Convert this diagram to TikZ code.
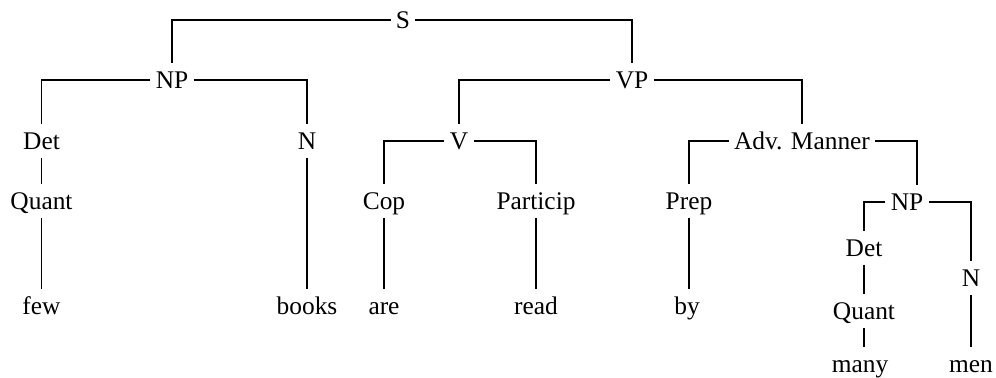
\documentclass[tikz,border=0pt]{standalone}
\usepackage{fontspec}
\setmainfont{Liberation Serif}
\begin{document}
\begin{tikzpicture}[x=0.5pt,y=-0.5pt,
  lab/.style={inner xsep=2.5pt, inner ysep=4pt, text height=8.4pt, text depth=0pt,
              font=\fontsize{12.7}{14}\selectfont},
  edge/.style={line width=0.7pt, line join=miter}]
\useasboundingbox (0,0) rectangle (996,378);
% nodes
\node[lab] (S) at (403,20) {S};
\node[lab] (NP) at (172,80) {NP};
\node[lab] (VP) at (632,80) {VP};
\node[lab] (Det) at (41.5,141) {Det};
\node[lab] (N) at (307,141) {N};
\node[lab] (V) at (459,141) {V};
\node[lab] (AM) at (802,141) {Adv. Manner};
\node[lab] (Quant) at (41.5,201) {Quant};
\node[lab] (Cop) at (384,201) {Cop};
\node[lab] (Particip) at (536,201) {Particip};
\node[lab] (Prep) at (689,201) {Prep};
\node[lab] (NPb) at (907,202) {NP};
\node[lab] (Detb) at (864,248) {Det};
\node[lab] (Nb) at (971,278) {N};
\node[lab] (Quantb) at (864,311) {Quant};
\node[lab] (few) at (41.5,306) {few};
\node[lab] (books) at (307,306) {books};
\node[lab] (are) at (384,306) {are};
\node[lab] (read) at (536,306) {read};
\node[lab] (by) at (687,306) {by};
\node[lab] (many) at (860,364) {many};
\node[lab] (men) at (971,364) {men};
% edges
\draw[edge] (S.west) -| (NP.north);
\draw[edge] (S.east) -| (VP.north);
\draw[edge] (NP.west) -| (Det.north);
\draw[edge] (NP.east) -| (N.north);
\draw[edge] (Det.south) -- (Quant.north);
\draw[edge] (Quant.south) -- (few.north);
\draw[edge] (N.south) -- (books.north);
\draw[edge] (VP.west) -| (V.north);
\draw[edge] (VP.east) -| (AM.north);
\draw[edge] (V.west) -| (Cop.north);
\draw[edge] (V.east) -| (Particip.north);
\draw[edge] (Cop.south) -- (are.north);
\draw[edge] (Particip.south) -- (read.north);
\draw[edge] (AM.west) -| (Prep.north);
\draw[edge] (AM.east) -| ([xshift=5pt]NPb.north);
\draw[edge] (Prep.south) -- (Prep.south |- by.north);
\draw[edge] (NPb.west) -| (Detb.north);
\draw[edge] (NPb.east) -| (Nb.north);
\draw[edge] (Detb.south) -- (Quantb.north);
\draw[edge] (Quantb.south) -- (Quantb.south |- many.north);
\draw[edge] (Nb.south) -- (men.north);
\end{tikzpicture}
\end{document}
